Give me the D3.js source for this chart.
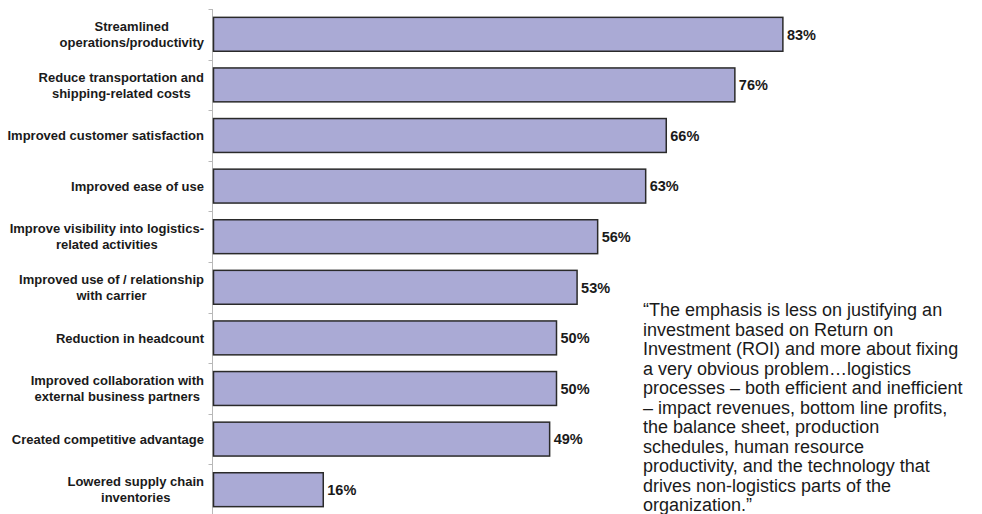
<!DOCTYPE html>
<html>
<head>
<meta charset="utf-8">
<script src="https://cdn.jsdelivr.net/npm/d3@7"></script>
<style>
  body { margin: 0; background: #fff; }
  svg { display: block; font-family: "Liberation Sans", Arial, sans-serif; }
</style>
</head>
<body>
<div id="chart"></div>
<script>
// chart data
var categories = [
  ["Streamlined", "operations/productivity"],
  ["Reduce transportation and", "shipping-related costs"],
  ["Improved customer satisfaction"],
  ["Improved ease of use"],
  ["Improve visibility into logistics-", "related activities"],
  ["Improved use of / relationship", "with carrier"],
  ["Reduction in headcount"],
  ["Improved collaboration with", "external business partners"],
  ["Created competitive advantage"],
  ["Lowered supply chain", "inventories"]
];
var values = [83, 76, 66, 63, 56, 53, 50, 50, 49, 16];
var quoteLines = [
  "\u201cThe emphasis is less on justifying an",
  "investment based on Return on",
  "Investment (ROI) and more about fixing",
  "a very obvious problem\u2026logistics",
  "processes \u2013 both efficient and inefficient",
  "\u2013 impact revenues, bottom line profits,",
  "the balance sheet, production",
  "schedules, human resource",
  "productivity, and the technology that",
  "drives non-logistics parts of the",
  "organization.\u201d"
];

var svgWidth = 982, svgHeight = 514;
var svg = d3.select("#chart").append("svg")
  .attr("width", svgWidth)
  .attr("height", svgHeight);

var axisX = 212.5;
var keys = d3.range(values.length);

// scales
var xScale = d3.scaleLinear()
  .domain([0, 100])
  .range([axisX, axisX + 686]);

var yScale = d3.scaleBand()
  .domain(keys)
  .range([9, 515])
  .paddingInner(0.33)
  .paddingOuter(0.165);

// axis line + tick marks at category boundaries
var boundaries = keys.map(i => 9 + i * (506 / values.length)).concat([515]);
svg.append("line")
  .attr("x1", axisX).attr("x2", axisX)
  .attr("y1", 9).attr("y2", 515)
  .attr("stroke", "#b8b8b8")
  .attr("stroke-width", 1);
svg.selectAll(".tick")
  .data(boundaries)
  .enter().append("line")
  .attr("x1", axisX - 4).attr("x2", axisX)
  .attr("y1", d => Math.round(d) + 0.5).attr("y2", d => Math.round(d) + 0.5)
  .attr("stroke", "#b8b8b8");

// bars
svg.selectAll(".bar")
  .data(values)
  .enter().append("rect")
  .attr("x", xScale(0) + 1)
  .attr("y", (d, i) => yScale(i))
  .attr("width", d => xScale(d) - xScale(0))
  .attr("height", yScale.bandwidth())
  .attr("fill", "#aaaad5")
  .attr("stroke", "#2a2a2a")
  .attr("stroke-width", 1.5);

// value labels
svg.selectAll(".val")
  .data(values)
  .enter().append("text")
  .attr("x", d => xScale(d) + 5)
  .attr("y", (d, i) => yScale(i) + yScale.bandwidth() / 2)
  .attr("dy", "0.36em")
  .attr("font-size", "14.5px")
  .attr("font-weight", "bold")
  .attr("fill", "#1a1a1a")
  .text(d => d + "%");

// category labels: block right-aligned to axis, lines centred
var lineH = 16;
categories.forEach(function(lines, i) {
  var cy = yScale(i) + yScale.bandwidth() / 2;
  var g = svg.append("g");
  var texts = lines.map(function(s, j) {
    return g.append("text")
      .attr("y", cy + (j - (lines.length - 1) / 2) * lineH)
      .attr("dy", "0.36em")
      .attr("text-anchor", "middle")
      .attr("font-size", "13px")
      .attr("font-weight", "bold")
      .attr("fill", "#1a1a1a")
      .text(s);
  });
  var maxW = d3.max(texts, t => t.node().getComputedTextLength());
  texts.forEach(t => t.attr("x", 204 - maxW / 2));
});

// quote text
var quote = svg.append("text")
  .attr("x", 643)
  .attr("y", 316)
  .attr("font-size", "18px")
  .attr("fill", "#1a1a1a");
quote.selectAll("tspan")
  .data(quoteLines)
  .enter().append("tspan")
  .attr("x", 643)
  .attr("dy", (d, i) => i === 0 ? 0 : 19.5)
  .text(d => d);
</script>
</body>
</html>
